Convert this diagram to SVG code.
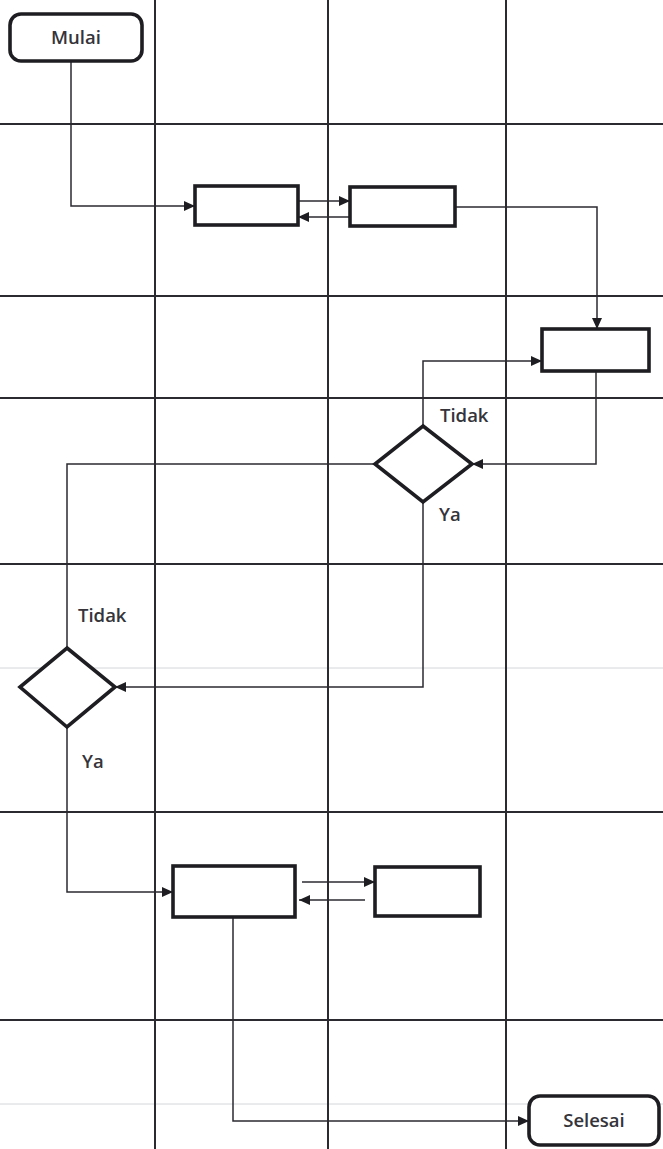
<svg xmlns="http://www.w3.org/2000/svg" width="663" height="1149" viewBox="0 0 663 1149">
<defs>
<marker id="ah" markerWidth="12" markerHeight="12" refX="11" refY="6" orient="auto" markerUnits="userSpaceOnUse">
<path d="M0,1 L11,6 L0,11 Z" fill="#1e1e22"/>
</marker>
</defs>
<style>
.grid{stroke:#2a2a30;stroke-width:2;fill:none}
.faint{stroke:#d4d6d8;stroke-width:1;fill:none}
.node{fill:#ffffff;stroke:#1e1e22;stroke-width:3.6}
.conn{stroke:#2a2a30;stroke-width:1.5;fill:none}
.lbl{font-family:"Open Sans","Liberation Sans",sans-serif;font-weight:600;font-size:18.5px;fill:#34343a}
</style>
<rect width="663" height="1149" fill="#ffffff"/>
<g id="grid">
<line class="faint" x1="0" y1="668" x2="663" y2="668"/>
<line class="faint" x1="0" y1="1104" x2="663" y2="1104"/>
<line class="grid" x1="155" y1="0" x2="155" y2="1149"/>
<line class="grid" x1="328" y1="0" x2="328" y2="1149"/>
<line class="grid" x1="506" y1="0" x2="506" y2="1149"/>
<line class="grid" x1="0" y1="124" x2="663" y2="124"/>
<line class="grid" x1="0" y1="296" x2="663" y2="296"/>
<line class="grid" x1="0" y1="398" x2="663" y2="398"/>
<line class="grid" x1="0" y1="564" x2="663" y2="564"/>
<line class="grid" x1="0" y1="812" x2="663" y2="812"/>
<line class="grid" x1="0" y1="1020" x2="663" y2="1020"/>
</g>
<g id="connectors">
<polyline class="conn" points="71,61 71,206 195,206" marker-end="url(#ah)"/>
<line class="conn" x1="298" y1="201" x2="350" y2="201" marker-end="url(#ah)"/>
<line class="conn" x1="350" y1="217" x2="298" y2="217" marker-end="url(#ah)"/>
<polyline class="conn" points="455,207 597,207 597,329" marker-end="url(#ah)"/>
<polyline class="conn" points="596,371 596,464 472,464" marker-end="url(#ah)"/>
<polyline class="conn" points="423,426 423,361 542,361" marker-end="url(#ah)"/>
<polyline class="conn" points="375,464 67,464 67,648"/>
<polyline class="conn" points="423,502 423,687 115,687" marker-end="url(#ah)"/>
<polyline class="conn" points="67,727 67,892 173,892" marker-end="url(#ah)"/>
<line class="conn" x1="302" y1="882" x2="375" y2="882" marker-end="url(#ah)"/>
<line class="conn" x1="365" y1="900" x2="299" y2="900" marker-end="url(#ah)"/>
<polyline class="conn" points="233,917 233,1121 529,1121" marker-end="url(#ah)"/>
</g>
<g id="mulai">
<rect class="node" x="10" y="14" width="132" height="47" rx="11"/>
<text class="lbl" x="76" y="44" text-anchor="middle">Mulai</text>
</g>
<g id="box1"><rect class="node" x="195" y="186" width="103" height="39"/></g>
<g id="box2"><rect class="node" x="350" y="187" width="105" height="39"/></g>
<g id="box3"><rect class="node" x="542" y="329" width="107" height="42"/></g>
<g id="decision1">
<polygon class="node" points="423,426 472,464 423,502 375,464"/>
<text class="lbl" x="440" y="422">Tidak</text>
<text class="lbl" x="439" y="521">Ya</text>
</g>
<g id="decision2">
<polygon class="node" points="67,648 115,687 67,727 20,687"/>
<text class="lbl" x="78" y="622">Tidak</text>
<text class="lbl" x="82" y="768">Ya</text>
</g>
<g id="box4"><rect class="node" x="173" y="866" width="122" height="51"/></g>
<g id="box5"><rect class="node" x="375" y="867" width="105" height="49"/></g>
<g id="selesai">
<rect class="node" x="529" y="1096" width="130" height="49" rx="11"/>
<text class="lbl" x="594" y="1127" text-anchor="middle">Selesai</text>
</g>
</svg>
